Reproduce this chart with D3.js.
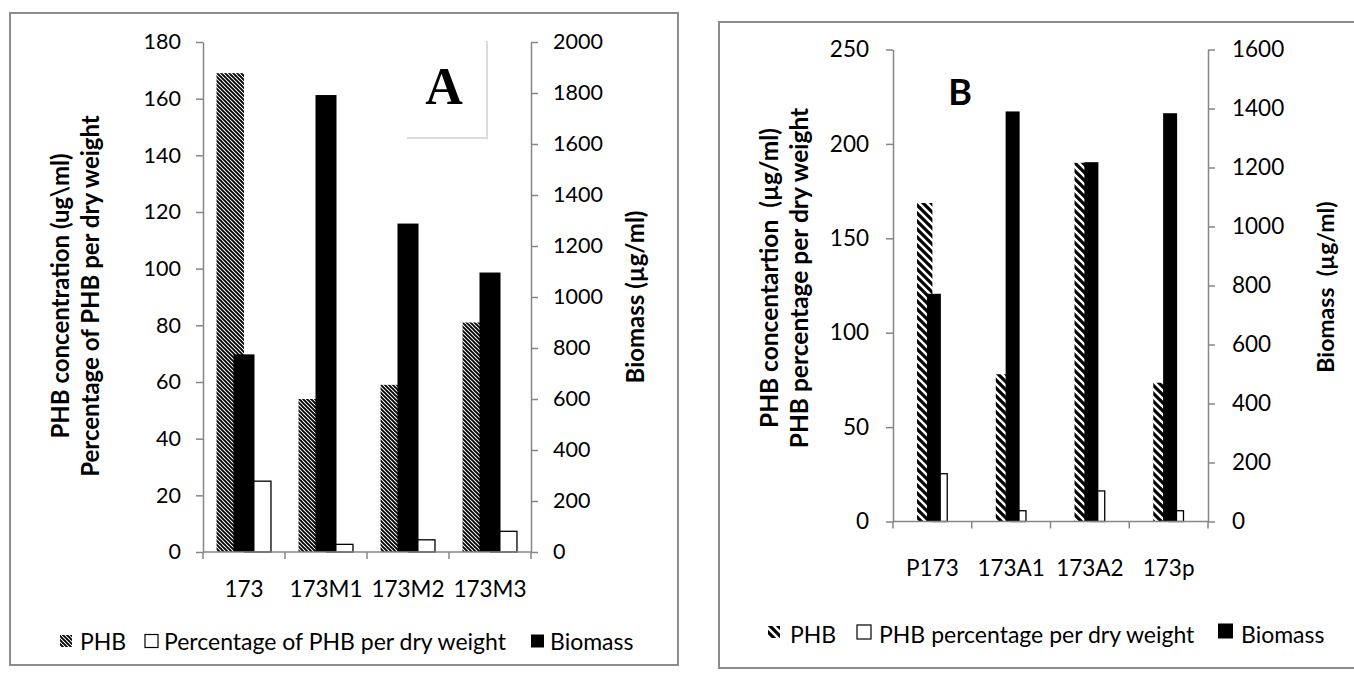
<!DOCTYPE html>
<html><head><meta charset="utf-8">
<script src="https://cdn.jsdelivr.net/npm/d3@7"></script>
<style>body{margin:0;background:#fff} svg{display:block}</style>
</head><body><svg id="c" width="1354" height="675"></svg>
<script>
// ---------- DATA ----------
const catsA = ["173", "173M1", "173M2", "173M3"];
const phbA = [169, 54, 59, 81];
const pctA = [25, 2.7, 4.3, 7.3];
const bioA = [775, 1792, 1288, 1096];
const leftTicksA = [0, 20, 40, 60, 80, 100, 120, 140, 160, 180];
const rightTicksA = [0, 200, 400, 600, 800, 1000, 1200, 1400, 1600, 1800, 2000];

const catsB = ["P173", "173A1", "173A2", "173p"];
const phbB = [168.7, 78, 190, 73.5];
const pctB = [25.3, 5.7, 16.2, 5.7];
const bioB = [772, 1390, 1218, 1384];
const leftTicksB = [0, 50, 100, 150, 200, 250];
const rightTicksB = [0, 200, 400, 600, 800, 1000, 1200, 1400, 1600];

const svg = d3.select("#c");
const FONT = "Lato, 'Open Sans', sans-serif";
const AX = "#868686";

const defs = svg.append("defs");
// dense hatch for panel A
const pA = defs.append("pattern").attr("id", "hatchA").attr("patternUnits", "userSpaceOnUse")
  .attr("width", 4).attr("height", 4);
pA.append("rect").attr("width", 4).attr("height", 4).attr("fill", "#fff");
pA.append("path").attr("d", "M-1,-1 L5,5 M-1,3 L1,5 M3,-1 L5,1")
  .attr("stroke", "#000").attr("stroke-width", 1.9);
// wider hatch for panel B
const pB = defs.append("pattern").attr("id", "hatchB").attr("patternUnits", "userSpaceOnUse")
  .attr("width", 8).attr("height", 8);
pB.append("rect").attr("width", 8).attr("height", 8).attr("fill", "#fff");
pB.append("path").attr("d", "M-2,-2 L10,10 M-2,6 L2,10 M6,-2 L10,2")
  .attr("stroke", "#000").attr("stroke-width", 3.2);

function drawPanel(cfg) {
  const g = svg.append("g");
  // border
  g.append("rect").attr("x", cfg.bx).attr("y", cfg.by).attr("width", cfg.bw).attr("height", cfg.bh)
    .attr("fill", "none").attr("stroke", "#8c8c8c").attr("stroke-width", 2);

  const x = d3.scaleBand().domain(cfg.cats).range([cfg.x0, cfg.x1]);
  const yL = d3.scaleLinear().domain([cfg.leftTicks[0], cfg.leftTicks[cfg.leftTicks.length - 1]]).range([cfg.yBase, cfg.yTop]);
  const yR = d3.scaleLinear().domain([cfg.rightTicks[0], cfg.rightTicks[cfg.rightTicks.length - 1]]).range([cfg.yBase, cfg.yTop]);

  const bw = x.bandwidth();
  const gw = bw * cfg.groupFrac;
  const half = gw / 2;
  const data = cfg.cats.map((c, i) => ({ c, phb: cfg.phb[i], pct: cfg.pct[i], bio: cfg.bio[i] }));

  // primary bars: PHB (hatched) and percentage (white)
  g.selectAll(".phb").data(data).enter().append("rect")
    .attr("x", d => x(d.c) + (bw - gw) / 2).attr("width", half)
    .attr("y", d => yL(d.phb)).attr("height", d => cfg.yBase - yL(d.phb))
    .attr("fill", `url(#${cfg.hatch})`);
  g.selectAll(".pct").data(data).enter().append("rect")
    .attr("x", d => x(d.c) + bw / 2 + 0.5).attr("width", half - 1)
    .attr("y", d => yL(d.pct)).attr("height", d => cfg.yBase - yL(d.pct))
    .attr("fill", "#fff").attr("stroke", "#000").attr("stroke-width", 1.3);
  // secondary bars: Biomass (black), drawn on top
  g.selectAll(".bio").data(data).enter().append("rect")
    .attr("x", d => x(d.c) + bw / 2 - cfg.blackW / 2 + cfg.blackOff).attr("width", cfg.blackW)
    .attr("y", d => yR(d.bio)).attr("height", d => cfg.yBase - yR(d.bio))
    .attr("fill", "#000");

  // left axis
  const la = g.append("g").attr("transform", `translate(${cfg.x0},0)`)
    .call(d3.axisLeft(yL).tickValues(cfg.leftTicks).tickSize(7).tickSizeOuter(0).tickPadding(cfg.lpad).tickFormat(d3.format("d")));
  // right axis
  const ra = g.append("g").attr("transform", `translate(${cfg.x1},0)`)
    .call(d3.axisRight(yR).tickValues(cfg.rightTicks).tickSize(7).tickSizeOuter(0).tickPadding(cfg.rpad).tickFormat(d3.format("d")));
  [la, ra].forEach(a => {
    a.select(".domain").attr("stroke", AX).attr("stroke-width", 1.5);
    a.selectAll(".tick line").attr("stroke", AX).attr("stroke-width", 1.5);
    a.selectAll("text").attr("font-family", FONT).attr("font-size", cfg.tickFont).attr("fill", "#000");
  });

  // category axis: baseline and boundary ticks
  g.append("line").attr("x1", cfg.x0).attr("x2", cfg.x1).attr("y1", cfg.yBase).attr("y2", cfg.yBase)
    .attr("stroke", AX).attr("stroke-width", 1.5);
  const bounds = cfg.cats.map(c => x(c)).concat([cfg.x1]);
  g.selectAll(".ct").data(bounds).enter().append("line")
    .attr("x1", d => d).attr("x2", d => d).attr("y1", cfg.yBase).attr("y2", cfg.yBase + 7)
    .attr("stroke", AX).attr("stroke-width", 1.5);
  g.selectAll(".cl").data(cfg.cats).enter().append("text")
    .attr("x", d => x(d) + bw / 2).attr("y", cfg.catY)
    .attr("text-anchor", "middle").attr("dominant-baseline", "central")
    .attr("font-family", FONT).attr("font-size", cfg.catFont).text(d => d);

  // axis titles
  cfg.leftTitle.forEach((t, i) => {
    g.append("text").attr("transform", `translate(${cfg.ltX[i]},${cfg.ltY}) rotate(-90)`)
      .attr("text-anchor", "middle").attr("dominant-baseline", "central")
      .attr("font-family", FONT).attr("font-weight", "bold").attr("font-size", cfg.titleFont)
      .style("white-space", "pre").text(t);
  });
  g.append("text").attr("transform", `translate(${cfg.rtX},${cfg.rtY}) rotate(-90)`)
    .attr("text-anchor", "middle").attr("dominant-baseline", "central")
    .attr("font-family", FONT).attr("font-weight", "bold").attr("font-size", cfg.rTitleFont)
    .style("white-space", "pre").text(cfg.rightTitle);

  // legend
  const lg = g.append("g");
  cfg.legend.forEach(L => {
    const r = lg.append("rect").attr("x", L.sx).attr("y", cfg.legY - L.s / 2 + (L.dy || 0)).attr("width", L.s).attr("height", L.s);
    if (L.type === "hatch") r.attr("fill", `url(#${cfg.hatch})`);
    else if (L.type === "white") r.attr("fill", "#fff").attr("stroke", "#000").attr("stroke-width", 1.2);
    else r.attr("fill", "#000");
    lg.append("text").attr("x", L.tx).attr("y", cfg.legY).attr("dominant-baseline", "central")
      .attr("font-family", FONT).attr("font-size", cfg.legFont).style("white-space", "pre").text(L.label);
  });
  return g;
}

// Panel A
const gA = drawPanel({
  bx: 10, by: 13, bw: 668, bh: 652,
  cats: catsA, phb: phbA, pct: pctA, bio: bioA,
  leftTicks: leftTicksA, rightTicks: rightTicksA,
  x0: 203, x1: 531, yTop: 42, yBase: 552,
  groupFrac: 0.67, blackW: 21, blackOff: 0, hatch: "hatchA",
  lpad: 15, rpad: 15, tickFont: 21.5, catFont: 22.5, catY: 588,
  leftTitle: ["PHB concentration (ug\\ml)", "Percentage of PHB per dry weight"],
  ltX: [59, 89], ltY: 296,
  rightTitle: "Biomass (µg/ml)", rtX: 634, rtY: 297, titleFont: 24, rTitleFont: 24,
  legY: 641, legFont: 23,
  legend: [
    { type: "hatch", sx: 60, s: 12, tx: 80, label: "PHB" },
    { type: "white", sx: 145, s: 13, tx: 164, label: "Percentage of PHB per dry weight" },
    { type: "black", sx: 531, s: 13, tx: 550, label: "Biomass" }
  ]
});
// "A" label box
gA.append("path").attr("d", "M407,138 L487,138 L487,41").attr("fill", "none")
  .attr("stroke", "#dcdcdc").attr("stroke-width", 2);
gA.append("text").attr("x", 444).attr("y", 104).attr("text-anchor", "middle")
  .attr("font-family", "'Liberation Serif', 'DejaVu Serif', serif").attr("font-weight", "bold")
  .attr("font-size", 52).text("A");

// Panel B
const gB = drawPanel({
  bx: 719, by: 22, bw: 640, bh: 646,
  cats: catsB, phb: phbB, pct: pctB, bio: bioB,
  leftTicks: leftTicksB, rightTicks: rightTicksB,
  x0: 893, x1: 1208, yTop: 49.5, yBase: 521.5,
  groupFrac: 0.39, blackW: 14, blackOff: 1.5, hatch: "hatchB",
  lpad: 17, rpad: 17, tickFont: 22.5, catFont: 22.5, catY: 567,
  leftTitle: ["PHB concentartion  (µg/ml)", "PHB percentage per dry weight"],
  ltX: [768, 798], ltY: 278,
  rightTitle: "Biomass  (µg/ml)", rtX: 1325, rtY: 287, titleFont: 24.5, rTitleFont: 23,
  legY: 634, legFont: 23,
  legend: [
    { type: "hatch", sx: 768, s: 12, tx: 790, label: "PHB", dy: -2 },
    { type: "white", sx: 857, s: 14, tx: 879, label: "PHB percentage per dry weight", dy: -2 },
    { type: "black", sx: 1218, s: 15, tx: 1241, label: "Biomass", dy: -3 }
  ]
});
gB.append("text").attr("x", 960).attr("y", 105).attr("text-anchor", "middle")
  .attr("font-family", FONT).attr("font-weight", "bold").attr("font-size", 36).text("B");
</script></body></html>
